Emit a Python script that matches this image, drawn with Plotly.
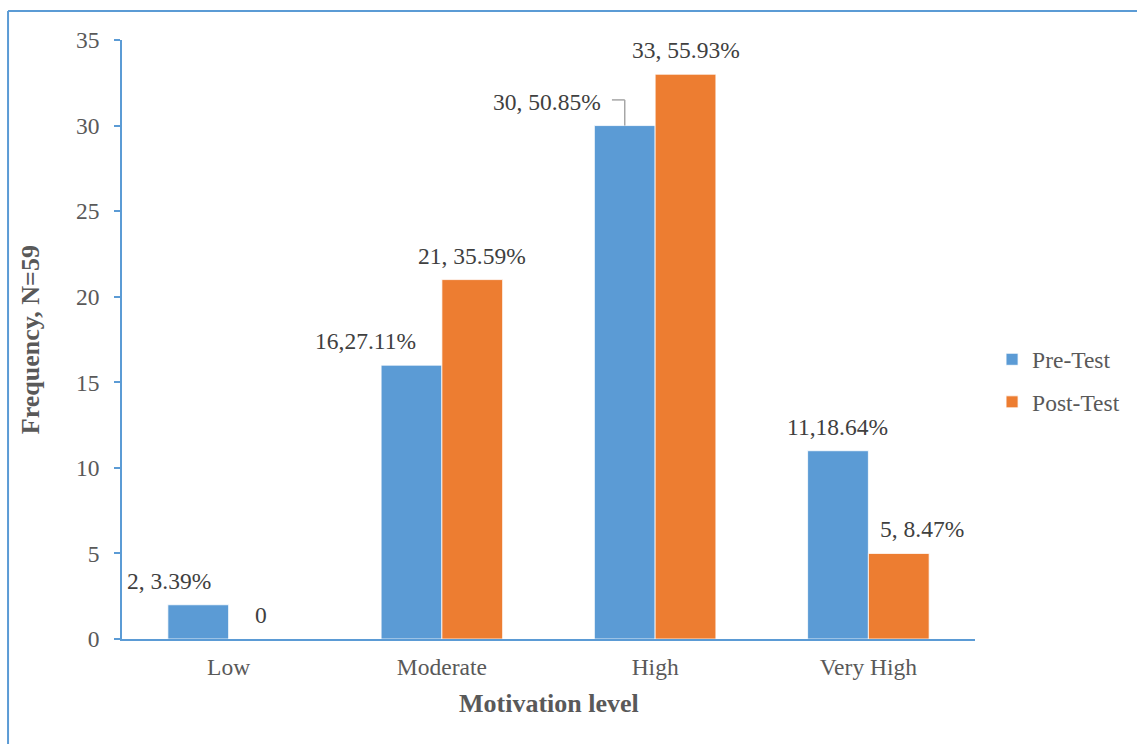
import plotly.graph_objects as go

categories = ["Low", "Moderate", "High", "Very High"]
pre_test = [2, 16, 30, 11]
post_test = [0, 21, 33, 5]
pre_labels = ["2, 3.39%", "16,27.11%", "30, 50.85%", "11,18.64%"]
post_labels = ["0", "21, 35.59%", "33, 55.93%", "5, 8.47%"]
y_ticks = [0, 5, 10, 15, 20, 25, 30, 35]

# styling (label nudges in pixels, as placed manually in the original)
pre_xshift = [-29, -46, -78, 0]
post_xshift = [2, 0, 0, 23]
BLUE = "#5B9BD5"
ORANGE = "#ED7D31"
FONT = "Liberation Serif, Times New Roman, serif"
BARGAP = 0.43

fig = go.Figure()
fig.add_trace(go.Bar(x=categories, y=pre_test, name="Pre-Test", marker_color=BLUE,
                     marker_line=dict(color="white", width=0.8), legendgroup="a"))
fig.add_trace(go.Bar(x=categories, y=post_test, name="Post-Test", marker_color=ORANGE,
                     marker_line=dict(color="white", width=0.8), legendgroup="b"))

half = (1 - BARGAP) / 4  # offset of each bar centre from the category centre
ann = []
for i, (v, t, dx) in enumerate(zip(pre_test, pre_labels, pre_xshift)):
    ann.append(dict(x=i - half, y=v, text=t, xref="x", yref="y", showarrow=False,
                    yanchor="middle", yshift=24, xshift=dx,
                    font=dict(family=FONT, size=23.5, color="#404040")))
for i, (v, t, dx) in enumerate(zip(post_test, post_labels, post_xshift)):
    ann.append(dict(x=i + half, y=v, text=t, xref="x", yref="y", showarrow=False,
                    yanchor="middle", yshift=24, xshift=dx,
                    font=dict(family=FONT, size=23.5, color="#404040")))
# axis titles
ann.append(dict(x=0.5, y=-0.108, xref="paper", yref="paper", text="<b>Motivation level</b>",
                showarrow=False, yanchor="middle", xanchor="center",
                font=dict(family=FONT, size=26, color="#595959")))
ann.append(dict(x=-0.107, y=0.5, xref="paper", yref="paper", text="<b>Frequency, N=59</b>",
                showarrow=False, textangle=-90, yanchor="middle", xanchor="center",
                font=dict(family=FONT, size=26, color="#595959")))

# leader line for the moved "30, 50.85%" label
hi = categories.index("High")
lx = hi - half
ly = pre_test[hi] + 1.5
shapes = [
    dict(type="line", xref="x", yref="y", x0=lx - 0.06, x1=lx, y0=ly, y1=ly,
         line=dict(color="#A6A6A6", width=1.5)),
    dict(type="line", xref="x", yref="y", x0=lx, x1=lx, y0=ly, y1=pre_test[hi],
         line=dict(color="#A6A6A6", width=1.5)),
    # chart frame (left and top edges visible)
    dict(type="line", xref="paper", yref="paper", x0=-0.1336, x1=-0.1336, y0=-0.2, y1=1.0484,
         line=dict(color=BLUE, width=2)),
    dict(type="line", xref="paper", yref="paper", x0=-0.1336, x1=1.2, y0=1.0484, y1=1.0484,
         line=dict(color=BLUE, width=2)),
]

fig.update_layout(
    width=1137, height=744, autosize=False,
    margin=dict(l=122, r=162, t=40, b=105, autoexpand=False),
    paper_bgcolor="white", plot_bgcolor="white",
    barmode="group", bargap=BARGAP, bargroupgap=0,
    font=dict(family=FONT, size=23.5, color="#595959"),
    annotations=ann, shapes=shapes,
    legend=dict(x=1.02, y=0.4307, xanchor="left", yanchor="middle", tracegroupgap=9,
                font=dict(family=FONT, size=23.5, color="#595959"), bgcolor="rgba(0,0,0,0)"),
    xaxis=dict(showline=True, linecolor=BLUE, linewidth=1.5, ticks="", showgrid=False,
               automargin=False,
               tickfont=dict(family=FONT, size=23.5, color="#595959"), ticklabelstandoff=6),
    yaxis=dict(range=[0, 35], tickvals=y_ticks, showline=True, linecolor=BLUE, linewidth=1.5,
               ticks="outside", ticklen=6, tickcolor=BLUE, tickwidth=1.5, showgrid=False,
               zeroline=False, ticklabelstandoff=10, automargin=False,
               tickfont=dict(family=FONT, size=23.5, color="#595959")),
)

fig.write_html("out.html")
